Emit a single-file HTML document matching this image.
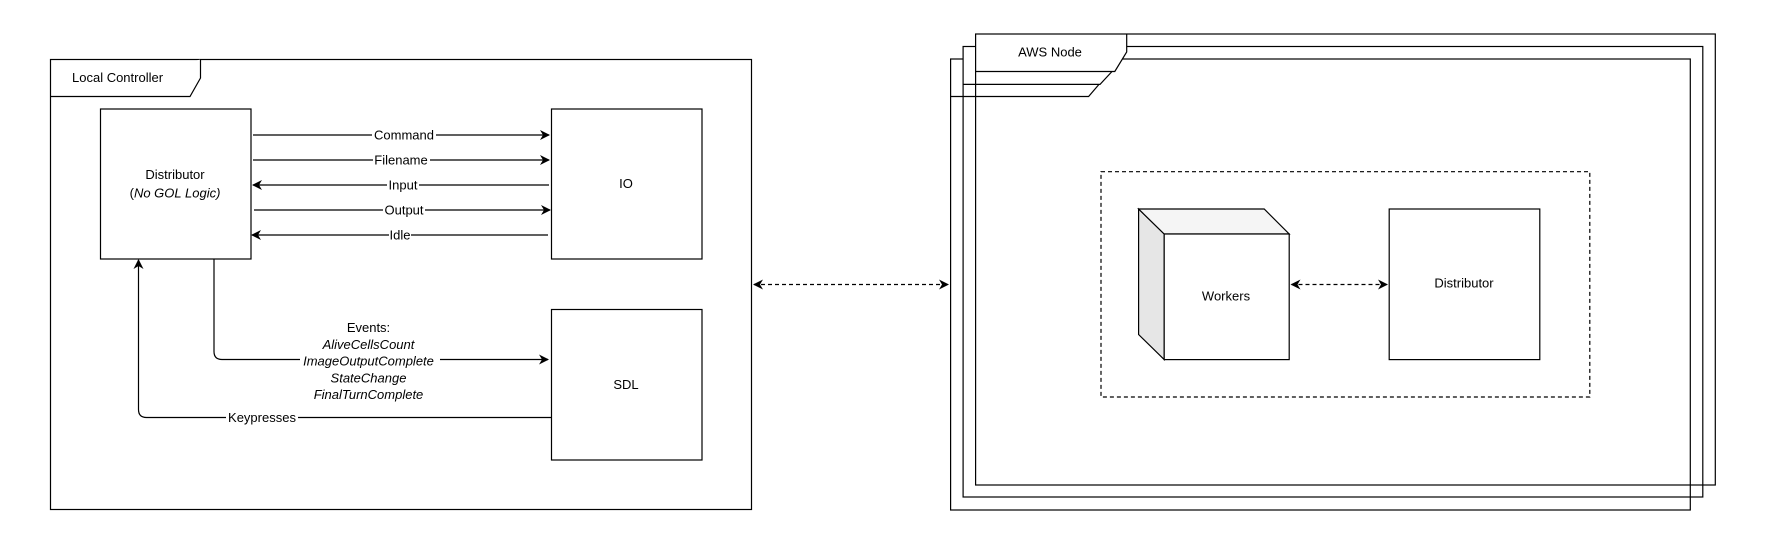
<!DOCTYPE html>
<html><head><meta charset="utf-8"><style>
html,body{margin:0;padding:0;background:#fff;}
svg{display:block;}
text{font-family:"Liberation Sans",Arial,sans-serif;font-size:13px;fill:#000;}
.it{font-style:italic;}
</style></head><body>
<svg width="1789" height="560" viewBox="0 0 1789 560" xmlns="http://www.w3.org/2000/svg">
<defs>
<marker id="ah" viewBox="0 0 10 10" refX="9" refY="5" markerWidth="10" markerHeight="10" markerUnits="userSpaceOnUse" orient="auto-start-reverse">
<path d="M0,0 L10,5 L0,10 L3,5 Z" fill="#000"/>
</marker>
</defs>
<g fill="none" stroke="#000" stroke-width="1.2">
<!-- Local controller -->
<rect x="50.5" y="59.5" width="701" height="450"/>
<path d="M50.5,96.5 H190 L200.5,78 V59.5" fill="#fff"/>
<rect x="100.5" y="109" width="150.5" height="150"/>
<rect x="551.5" y="109" width="150.5" height="150"/>
<rect x="551.5" y="309.5" width="150.5" height="150.5"/>
<!-- arrows -->
<line x1="253" y1="135" x2="549" y2="135" marker-end="url(#ah)"/>
<line x1="253" y1="160" x2="549" y2="160" marker-end="url(#ah)"/>
<line x1="549" y1="185" x2="253" y2="185" marker-end="url(#ah)"/>
<line x1="254" y1="210" x2="550" y2="210" marker-end="url(#ah)"/>
<line x1="548" y1="235" x2="252" y2="235" marker-end="url(#ah)"/>
<path d="M214,259 V351.5 Q214,359.5 222,359.5 H548" marker-end="url(#ah)"/>
<path d="M551.5,417.5 H146.5 Q138.5,417.5 138.5,409.5 V260" marker-end="url(#ah)"/>
<line x1="754" y1="284.5" x2="948" y2="284.5" stroke-dasharray="4,3" marker-start="url(#ah)" marker-end="url(#ah)"/>
<!-- AWS frames -->
<rect x="950.6" y="59" width="739.7" height="451"/>
<path d="M950.6,96.5 H1088.6 L1099,84.4"/>
<path d="M963.1,84.4 H1100 L1112,71.5 V46.5 H963.1 Z" fill="#fff" stroke="none"/>
<rect x="963.1" y="46.5" width="739.7" height="450.5"/>
<path d="M963.1,84.4 H1100 L1112,71.5"/>
<path d="M975.6,71.5 H1114.8 L1126.7,52 V34 H975.6 Z" fill="#fff" stroke="none"/>
<rect x="975.6" y="34" width="739.7" height="451"/>
<path d="M975.6,71.5 H1114.8 L1126.7,52 V34"/>
<!-- group -->
<rect x="1101" y="171.7" width="488.8" height="225.3" stroke-dasharray="4,3"/>
<!-- cube -->
<path d="M1138.6,209 L1164.2,234 V359.6 L1138.6,334.5 Z" fill="#e6e6e6"/>
<path d="M1138.6,209 H1264.2 L1289.2,234 H1164.2 Z" fill="#f5f5f5"/>
<rect x="1164.2" y="234" width="125" height="125.6" fill="#fff"/>
<rect x="1389.2" y="209" width="150.6" height="150.6"/>
<line x1="1291.5" y1="284.5" x2="1387" y2="284.5" stroke-dasharray="4,3" marker-start="url(#ah)" marker-end="url(#ah)"/>
</g>
<!-- label backgrounds -->
<g fill="#fff">
<rect x="372" y="127" width="64" height="15"/>
<rect x="373" y="152" width="57" height="15"/>
<rect x="387" y="177" width="32" height="15"/>
<rect x="383" y="202" width="42" height="15"/>
<rect x="389" y="227" width="22" height="15"/>
<rect x="226" y="410" width="72" height="15"/>
<rect x="300" y="320" width="140" height="82"/>
</g>
<text x="72" y="82">Local Controller</text>
<text x="404" y="139.5" text-anchor="middle">Command</text>
<text x="401" y="164.5" text-anchor="middle">Filename</text>
<text x="403" y="189.5" text-anchor="middle">Input</text>
<text x="404" y="214.5" text-anchor="middle">Output</text>
<text x="400" y="239.5" text-anchor="middle">Idle</text>
<text x="175" y="179" text-anchor="middle">Distributor</text>
<text x="175" y="197.5" text-anchor="middle">(<tspan class="it">No GOL Logic)</tspan></text>
<text x="626" y="188" text-anchor="middle">IO</text>
<text x="626" y="389" text-anchor="middle">SDL</text>
<text x="368.5" y="332" text-anchor="middle">Events:</text>
<text x="368.5" y="349" text-anchor="middle" class="it">AliveCellsCount</text>
<text x="368.5" y="365.5" text-anchor="middle" class="it">ImageOutputComplete</text>
<text x="368.5" y="382.5" text-anchor="middle" class="it">StateChange</text>
<text x="368.5" y="399" text-anchor="middle" class="it">FinalTurnComplete</text>
<text x="262" y="422" text-anchor="middle">Keypresses</text>
<text x="1050" y="56.5" text-anchor="middle">AWS Node</text>
<text x="1226" y="300.5" text-anchor="middle">Workers</text>
<text x="1464" y="287.5" text-anchor="middle">Distributor</text>
</svg>
</body></html>
